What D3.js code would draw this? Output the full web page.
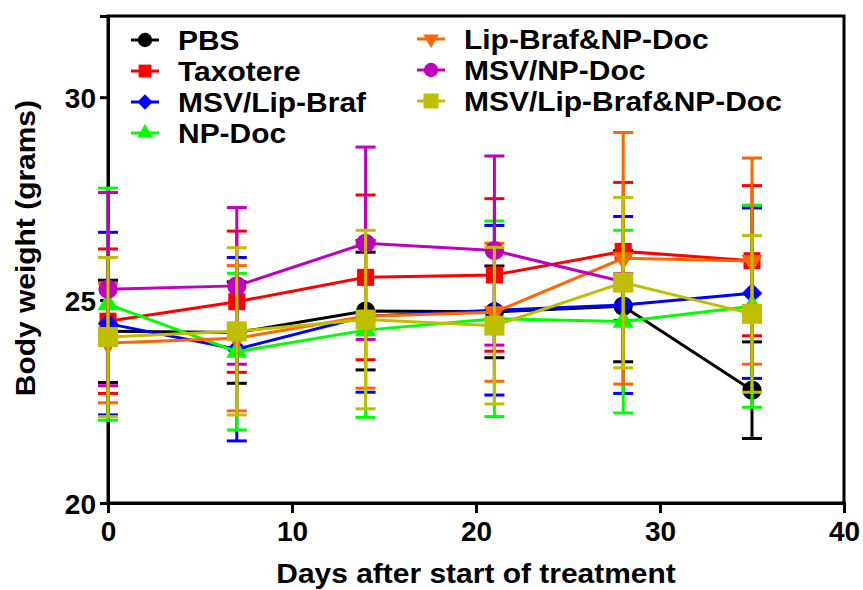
<!DOCTYPE html>
<html>
<head>
<meta charset="utf-8">
<script src="https://cdn.jsdelivr.net/npm/d3@7"></script>
<style>
  body { margin: 0; background: #fff; }
  svg text { font-family: "Liberation Sans", Arial, sans-serif; font-weight: bold; }
</style>
</head>
<body>
<div id="chart"></div>
<script>
// Days of measurement
const days = [0, 7, 14, 21, 28, 35];

// Group names (legend order)
const groups = ["PBS", "Taxotere", "MSV/Lip-Braf", "NP-Doc", "Lip-Braf&NP-Doc", "MSV/NP-Doc", "MSV/Lip-Braf&NP-Doc"];

// Mean body weight (grams) per group
const pbsMean      = [24.23, 24.20, 24.73, 24.71, 24.85, 22.78];
const taxMean      = [24.48, 24.96, 25.56, 25.62, 26.20, 25.97];
const msvBrafMean  = [24.42, 23.79, 24.60, 24.75, 24.88, 25.17];
const npDocMean    = [24.90, 23.73, 24.26, 24.54, 24.47, 24.85];
const brafDocMean  = [23.94, 24.06, 24.60, 24.70, 26.03, 25.96];
const msvDocMean   = [25.27, 25.35, 26.40, 26.22, 25.45];
const msvAllMean   = [24.09, 24.23, 24.52, 24.37, 25.43, 24.66];

// Error (SEM) per group
const pbsErr      = [1.26, 1.25, 1.45, 1.13, 1.37, 1.19];
const taxErr      = [1.78, 1.74, 2.03, 1.88, 1.70, 1.85];
const msvBrafErr  = [2.25, 2.26, 1.87, 2.09, 2.18, 2.10];
const npDocErr    = [2.86, 1.93, 2.15, 2.41, 2.25, 2.49];
const brafDocErr  = [1.47, 1.79, 1.77, 1.70, 3.10, 2.54];
const msvDocErr   = [2.38, 1.93, 2.37, 2.33, 0.20];
const msvAllErr   = [1.96, 2.06, 2.20, 1.93, 2.10, 1.93];

const xTicks = [0, 10, 20, 30, 40];
const yTicks = [20, 25, 30];

const colors = ["#000000", "#ff0000", "#0000ff", "#00ff00", "#ff6600", "#bf00bf", "#bfbf00"];
const shapes = ["circle", "square", "diamond", "triangle", "triangleDown", "circle", "bigSquare"];

const means = [pbsMean, taxMean, msvBrafMean, npDocMean, brafDocMean, msvDocMean, msvAllMean];
const errs = [pbsErr, taxErr, msvBrafErr, npDocErr, brafDocErr, msvDocErr, msvAllErr];

const series = groups.map((g, i) => ({
    name: g,
    color: colors[i],
    shape: shapes[i],
    values: means[i].map((m, j) => ({ day: days[j], mean: m, err: errs[i][j] }))
}));

const width = 863, height = 590;
const margin = { top: 16, right: 19, bottom: 87, left: 108 };
const stretch = 1.07; // the original lettering is a bit wider than Arial

const svg = d3.select("#chart").append("svg")
    .attr("width", width)
    .attr("height", height);

const x = d3.scaleLinear().domain([0, 40]).range([margin.left, width - margin.right]);
const y = d3.scaleLinear().domain([20, 32]).range([height - margin.bottom, margin.top]);

// marker path builder
function markerPath(shape, k) {
    k = k || 1;
    if (shape === "circle") return d3.symbol(d3.symbolCircle, 290 * k * k)();
    if (shape === "square") return d3.symbol(d3.symbolSquare, 290 * k * k)();
    if (shape === "bigSquare") return d3.symbol(d3.symbolSquare, 400 * k * k)();
    if (shape === "diamond") return d3.symbol(d3.symbolSquare, 210 * k * k)();
    return d3.symbol(d3.symbolTriangle, 190 * k * k)();
}
function markerRotate(shape) {
    if (shape === "diamond") return 45;
    if (shape === "triangleDown") return 180;
    return 0;
}

// Frame
svg.append("rect")
    .attr("x", x(0))
    .attr("y", y(32))
    .attr("width", x(40) - x(0))
    .attr("height", y(20) - y(32))
    .attr("fill", "none")
    .attr("stroke", "#000")
    .attr("stroke-width", 3);

// Axes
const xAxis = svg.append("g")
    .attr("transform", `translate(0,${y(20)})`)
    .call(d3.axisBottom(x).tickValues(xTicks).tickSize(10).tickPadding(8));
const yAxis = svg.append("g")
    .attr("transform", `translate(${x(0)},0)`)
    .call(d3.axisLeft(y).tickValues(yTicks).tickSize(8).tickPadding(4));

[xAxis, yAxis].forEach(a => {
    a.select(".domain").attr("stroke-width", 3);
    a.selectAll(".tick line").attr("stroke-width", 3);
    a.selectAll(".tick text")
        .attr("fill", "#000")
        .style("font-size", "28px");
});
yAxis.selectAll(".tick text").attr("dy", "0.36em");
xAxis.selectAll(".tick text").attr("dy", "0.72em");

// Axis titles
svg.append("text")
    .attr("transform", `translate(${(x(0) + x(40)) / 2},583) scale(${stretch},1)`)
    .attr("text-anchor", "middle")
    .style("font-size", "28px")
    .text("Days after start of treatment");

svg.append("text")
    .attr("transform", `translate(35,${y(25) - 52}) rotate(-90) scale(${stretch},1)`)
    .attr("text-anchor", "middle")
    .style("font-size", "28px")
    .text("Body weight (grams)");

// Series, drawn one after another
const line = d3.line().x(d => x(d.day)).y(d => y(d.mean));

series.forEach(s => {
    const g = svg.append("g").attr("class", "series");

    const bars = g.selectAll(".err")
        .data(s.values)
        .join("g")
        .attr("class", "err");
    bars.append("line")
        .attr("x1", d => x(d.day)).attr("x2", d => x(d.day))
        .attr("y1", d => y(d.mean + d.err)).attr("y2", d => y(d.mean - d.err))
        .attr("stroke", s.color).attr("stroke-width", 3);
    bars.append("line")
        .attr("x1", d => x(d.day) - 10).attr("x2", d => x(d.day) + 10)
        .attr("y1", d => y(d.mean + d.err)).attr("y2", d => y(d.mean + d.err))
        .attr("stroke", s.color).attr("stroke-width", 3);
    bars.append("line")
        .attr("x1", d => x(d.day) - 10).attr("x2", d => x(d.day) + 10)
        .attr("y1", d => y(d.mean - d.err)).attr("y2", d => y(d.mean - d.err))
        .attr("stroke", s.color).attr("stroke-width", 3);

    g.append("path")
        .datum(s.values)
        .attr("d", line)
        .attr("fill", "none")
        .attr("stroke", s.color)
        .attr("stroke-width", 3);

    g.selectAll(".mark")
        .data(s.values)
        .join("path")
        .attr("class", "mark")
        .attr("d", markerPath(s.shape))
        .attr("transform", d => `translate(${x(d.day)},${y(d.mean)}) rotate(${markerRotate(s.shape)})`)
        .attr("fill", s.color);
});

// Legend
const legend = svg.append("g").attr("class", "legend");
const legendEntries = legend.selectAll(".legend-entry")
    .data(series)
    .join("g")
    .attr("class", "legend-entry")
    .attr("transform", (d, i) => i < 4
        ? `translate(131,${40 + i * 31})`
        : `translate(417,${39 + (i - 4) * 31})`);

legendEntries.append("line")
    .attr("x1", 0).attr("x2", 28)
    .attr("stroke", d => d.color)
    .attr("stroke-width", 3);
legendEntries.append("path")
    .attr("d", d => markerPath(d.shape, 0.75))
    .attr("transform", d => `translate(14,0) rotate(${markerRotate(d.shape)})`)
    .attr("fill", d => d.color);
legendEntries.append("text")
    .attr("transform", `translate(47,0) scale(${stretch},1)`)
    .attr("dy", "0.36em")
    .style("font-size", "28px")
    .text(d => d.name);
</script>
</body>
</html>
